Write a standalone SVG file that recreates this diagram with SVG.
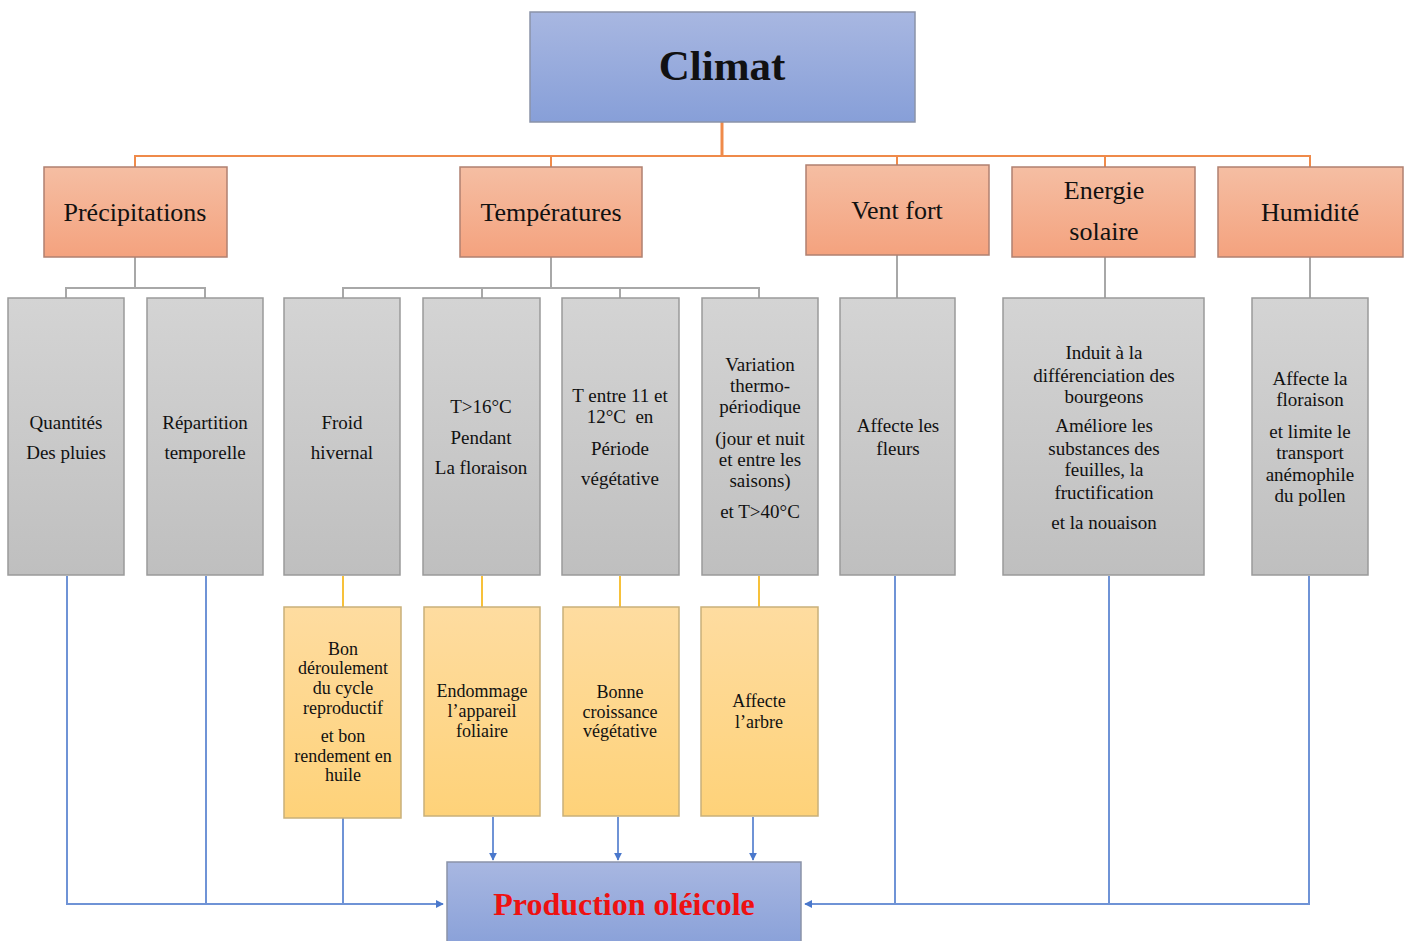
<svg xmlns="http://www.w3.org/2000/svg" width="1407" height="941" viewBox="0 0 1407 941" font-family="'Liberation Serif', 'DejaVu Serif', 'Times New Roman', serif">
<defs>
<linearGradient id="gBlue" x1="0" y1="0" x2="0" y2="1"><stop offset="0" stop-color="#a8b7e1"/><stop offset="1" stop-color="#879fd8"/></linearGradient>
<linearGradient id="gOrange" x1="0" y1="0" x2="0" y2="1"><stop offset="0" stop-color="#f5bea3"/><stop offset="1" stop-color="#f4a27e"/></linearGradient>
<linearGradient id="gGray" x1="0" y1="0" x2="0" y2="1"><stop offset="0" stop-color="#d4d4d4"/><stop offset="1" stop-color="#bfbfbf"/></linearGradient>
<linearGradient id="gYellow" x1="0" y1="0" x2="0" y2="1"><stop offset="0" stop-color="#fedca0"/><stop offset="1" stop-color="#fed279"/></linearGradient>
<marker id="arr" viewBox="0 0 10 10" refX="9" refY="5" markerWidth="4" markerHeight="4" orient="auto"><path d="M0,0 L10,5 L0,10 z" fill="#4a78cc"/></marker>
</defs>
<style>
text{fill:#111;text-anchor:middle}
.blue{fill:url(#gBlue);stroke:#8a93a8;stroke-width:1.5}
.orange{fill:url(#gOrange);stroke:#b08070;stroke-width:1.5}
.gray{fill:url(#gGray);stroke:#9a9a9a;stroke-width:1.5}
.yellow{fill:url(#gYellow);stroke:#c9b07a;stroke-width:1.5}
.l1{font-size:26px}
.l2{font-size:19px}
.l3{font-size:18px}
.co{fill:none;stroke:#ef8a4a;stroke-width:2}
.cg{fill:none;stroke:#a8a8a8;stroke-width:2}
.cy{fill:none;stroke:#f7c13a;stroke-width:2}
.cb{fill:none;stroke:#6f93d6;stroke-width:2}
</style>
<rect width="1407" height="941" fill="#ffffff"/>
<g id="connectors">
<path class="co" d="M722,122 V155" style="stroke-width:3"/>
<path class="co" d="M135,167 V156 H1310 V167"/>
<path class="co" d="M551,156 V167 M897,156 V165 M1105,156 V167"/>
<path class="cg" d="M135,257 V288 M66,298 V288 H205 V298"/>
<path class="cg" d="M551,257 V288 M343,298 V288 H759 V298 M482,288 V298 M620,288 V298"/>
<path class="cg" d="M897,255 V298 M1105,257 V298 M1310,257 V298"/>
<path class="cy" d="M343,576 V607 M482,576 V607 M620,576 V607 M759,576 V607"/>
<path class="cb" d="M67,576 V904 H443" marker-end="url(#arr)"/>
<path class="cb" d="M206,576 V904 M343,818 V904"/>
<path class="cb" d="M493,817 V860" marker-end="url(#arr)"/>
<path class="cb" d="M618,817 V860" marker-end="url(#arr)"/>
<path class="cb" d="M753,817 V860" marker-end="url(#arr)"/>
<path class="cb" d="M1309,576 V904 H805" marker-end="url(#arr)"/>
<path class="cb" d="M895,576 V904 M1109,576 V904"/>
</g>
<g id="climat"><rect class="blue" x="530" y="12" width="385" height="110"/><text x="722" y="80" style="font-size:43px;font-weight:bold">Climat</text></g>
<g id="precipitations"><rect class="orange" x="44" y="167" width="183" height="90"/><text class="l1" x="135" y="221">Précipitations</text></g>
<g id="temperatures"><rect class="orange" x="460" y="167" width="182" height="90"/><text class="l1" x="551" y="221">Températures</text></g>
<g id="vent"><rect class="orange" x="806" y="165" width="183" height="90"/><text class="l1" x="897" y="219">Vent fort</text></g>
<g id="energie"><rect class="orange" x="1012" y="167" width="183" height="90"/><text class="l1" x="1104" y="199">Energie</text><text class="l1" x="1104" y="240">solaire</text></g>
<g id="humidite"><rect class="orange" x="1218" y="167" width="185" height="90"/><text class="l1" x="1310" y="221">Humidité</text></g>
<g id="quantites"><rect class="gray" x="8" y="298" width="116" height="277"/><text class="l2" x="66" y="429">Quantités</text><text class="l2" x="66" y="459">Des pluies</text></g>
<g id="repartition"><rect class="gray" x="147" y="298" width="116" height="277"/><text class="l2" x="205" y="429">Répartition</text><text class="l2" x="205" y="459">temporelle</text></g>
<g id="froid"><rect class="gray" x="284" y="298" width="116" height="277"/><text class="l2" x="342" y="429">Froid</text><text class="l2" x="342" y="459">hivernal</text></g>
<g id="t16"><rect class="gray" x="423" y="298" width="117" height="277"/><text class="l2" x="481" y="413">T&gt;16°C</text><text class="l2" x="481" y="444">Pendant</text><text class="l2" x="481" y="474">La floraison</text></g>
<g id="t11"><rect class="gray" x="562" y="298" width="117" height="277"/><text class="l2" x="620" y="402">T entre 11 et</text><text class="l2" x="620" y="423" xml:space="preserve">12°C  en</text><text class="l2" x="620" y="455">Période</text><text class="l2" x="620" y="485">végétative</text></g>
<g id="variation"><rect class="gray" x="702" y="298" width="116" height="277"/><text class="l2" x="760" y="371">Variation</text><text class="l2" x="760" y="392">thermo-</text><text class="l2" x="760" y="413">périodique</text><text class="l2" x="760" y="445">(jour et nuit</text><text class="l2" x="760" y="466">et entre les</text><text class="l2" x="760" y="487">saisons)</text><text class="l2" x="760" y="518">et T&gt;40°C</text></g>
<g id="affecte-fleurs"><rect class="gray" x="840" y="298" width="115" height="277"/><text class="l2" x="898" y="432">Affecte les</text><text class="l2" x="898" y="455">fleurs</text></g>
<g id="induit"><rect class="gray" x="1003" y="298" width="201" height="277"/><text class="l2" x="1104" y="359">Induit à la</text><text class="l2" x="1104" y="382">différenciation des</text><text class="l2" x="1104" y="403">bourgeons</text><text class="l2" x="1104" y="432">Améliore les</text><text class="l2" x="1104" y="455">substances des</text><text class="l2" x="1104" y="476">feuilles, la</text><text class="l2" x="1104" y="499">fructification</text><text class="l2" x="1104" y="529">et la nouaison</text></g>
<g id="affecte-floraison"><rect class="gray" x="1252" y="298" width="116" height="277"/><text class="l2" x="1310" y="385">Affecte la</text><text class="l2" x="1310" y="406">floraison</text><text class="l2" x="1310" y="438">et limite le</text><text class="l2" x="1310" y="459">transport</text><text class="l2" x="1310" y="481">anémophile</text><text class="l2" x="1310" y="502">du pollen</text></g>
<g id="bon"><rect class="yellow" x="284" y="607" width="117" height="211"/><text class="l3" x="343" y="655">Bon</text><text class="l3" x="343" y="674">déroulement</text><text class="l3" x="343" y="694">du cycle</text><text class="l3" x="343" y="714">reproductif</text><text class="l3" x="343" y="742">et bon</text><text class="l3" x="343" y="762">rendement en</text><text class="l3" x="343" y="781">huile</text></g>
<g id="endommage"><rect class="yellow" x="424" y="607" width="116" height="209"/><text class="l3" x="482" y="697">Endommage</text><text class="l3" x="482" y="717">l’appareil</text><text class="l3" x="482" y="737">foliaire</text></g>
<g id="bonne"><rect class="yellow" x="563" y="607" width="116" height="209"/><text class="l3" x="620" y="698">Bonne</text><text class="l3" x="620" y="718">croissance</text><text class="l3" x="620" y="737">végétative</text></g>
<g id="affecte-arbre"><rect class="yellow" x="701" y="607" width="117" height="209"/><text class="l3" x="759" y="707">Affecte</text><text class="l3" x="759" y="728">l’arbre</text></g>
<g id="production"><rect class="blue" x="447" y="862" width="354" height="90"/><text x="624" y="915" style="font-size:32px;font-weight:bold;fill:#ee1111">Production oléicole</text></g>
</svg>
